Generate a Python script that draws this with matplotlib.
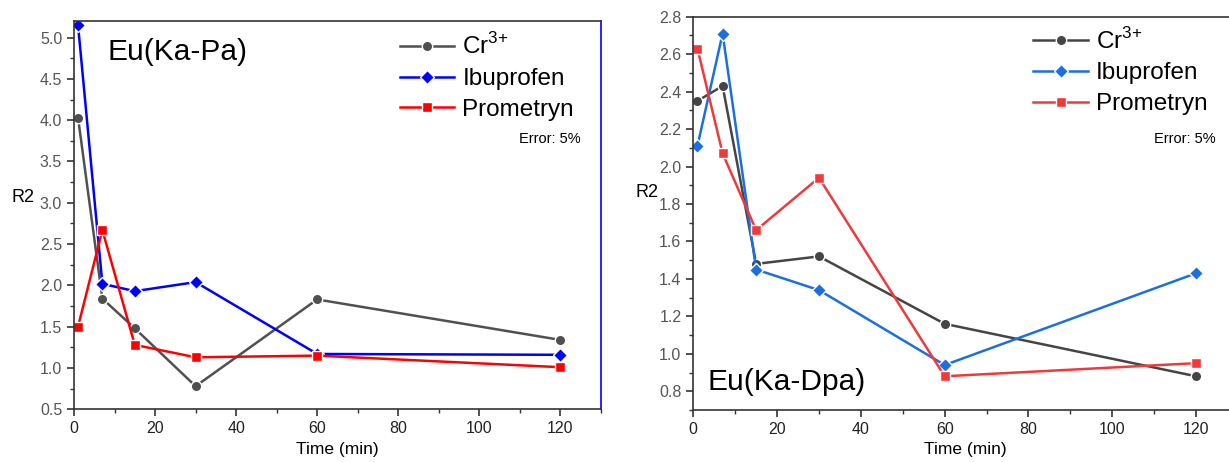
import numpy as np
import matplotlib
matplotlib.use("Agg")
import matplotlib.pyplot as plt
from matplotlib.ticker import MultipleLocator

plt.rcParams['font.family'] = ['Liberation Sans', 'DejaVu Sans']
plt.rcParams['mathtext.fontset'] = 'custom'
plt.rcParams['mathtext.rm'] = 'Liberation Sans'

# 数据
time_min = [1, 7, 15, 30, 60, 120]

pa_cr = [4.03, 1.84, 1.48, 0.78, 1.83, 1.34]
pa_ibu = [5.15, 2.02, 1.93, 2.04, 1.17, 1.16]
pa_pro = [1.50, 2.67, 1.28, 1.13, 1.15, 1.01]

dpa_cr = [2.35, 2.43, 1.48, 1.52, 1.16, 0.88]
dpa_ibu = [2.11, 2.71, 1.45, 1.34, 0.94, 1.43]
dpa_pro = [2.63, 2.07, 1.66, 1.94, 0.88, 0.95]

labels = [r'Cr$^{\mathregular{3}{\mathregular{+}}}$', 'Ibuprofen', 'Prometryn']

fig = plt.figure(figsize=(12.29, 4.62), dpi=100)
ax1 = fig.add_axes([0.0602, 0.114, 0.4288, 0.8405])
ax2 = fig.add_axes([0.5641, 0.1126, 0.4432, 0.8513])


def style_axis(ax, ylim, ymaj, ymin, right_color=None):
    ax.set_xlim(0, 130)
    ax.set_ylim(*ylim)
    ax.xaxis.set_major_locator(MultipleLocator(20))
    ax.xaxis.set_minor_locator(MultipleLocator(10))
    ax.yaxis.set_major_locator(MultipleLocator(ymaj))
    ax.yaxis.set_minor_locator(MultipleLocator(ymin))
    ax.yaxis.set_major_formatter(matplotlib.ticker.FormatStrFormatter('%.1f'))
    ax.tick_params(which='major', direction='out', length=5, width=1.2, color='#333333')
    ax.tick_params(which='minor', direction='out', length=3, width=1.0, color='#333333')
    ax.tick_params(axis='y', labelsize=11.5, labelcolor='#555555')
    ax.tick_params(axis='x', labelsize=11.5, labelcolor='#222222')
    for s in ['left', 'bottom', 'top']:
        ax.spines[s].set_color('#333333')
        ax.spines[s].set_linewidth(1.2)
    if right_color:
        ax.spines['right'].set_color(right_color)
        ax.spines['right'].set_linewidth(1.2)
    else:
        ax.spines['right'].set_visible(False)
    ax.set_xlabel('Time (min)', fontsize=12.5, labelpad=4)


def draw(ax, ys, colors):
    markers = ['o', 'D', 's']
    for y, c, m, lab in zip(ys, colors, markers, labels):
        ax.plot(time_min, y, color=c, lw=1.8, marker=m, ms=7.5,
                mec='white', mew=1.0, label=lab)


leg_kw = dict(loc='upper left', frameon=False, fontsize=17.5, handlelength=2.25,
              handletextpad=0.33, labelspacing=0.36, borderpad=0.0, borderaxespad=0.0)

# 左图
draw(ax1, [pa_cr, pa_ibu, pa_pro], ['#505050', '#0000FF', '#FF0000'])
style_axis(ax1, (0.5, 5.2), 0.5, 0.25, right_color='#0000FF')
ax1.text(0.063, 0.955, 'Eu(Ka-Pa)', transform=ax1.transAxes, fontsize=21.5, va='top')
ax1.set_ylabel('R2', fontsize=13, rotation=0, va='center', ha='center')
ax1.yaxis.set_label_coords(-0.097, 0.545)
ax1.legend(bbox_to_anchor=(0.618, 0.968), **leg_kw)
ax1.text(0.962, 0.685, 'Error: 5%', transform=ax1.transAxes, fontsize=10.5, ha='right')

# 右图
draw(ax2, [dpa_cr, dpa_ibu, dpa_pro], ['#454545', '#1C6FE0', '#F03A3A'])
style_axis(ax2, (0.7, 2.8), 0.2, 0.1)
ax2.text(0.027, 0.07, 'Eu(Ka-Dpa)', transform=ax2.transAxes, fontsize=21.5, va='center')
ax2.set_ylabel('R2', fontsize=13, rotation=0, va='center', ha='center')
ax2.yaxis.set_label_coords(-0.085, 0.553)
ax2.legend(bbox_to_anchor=(0.624, 0.972), **leg_kw)
ax2.text(0.959, 0.68, 'Error: 5%', transform=ax2.transAxes, fontsize=10.5, ha='right')

fig.savefig('out.png', dpi=100)
